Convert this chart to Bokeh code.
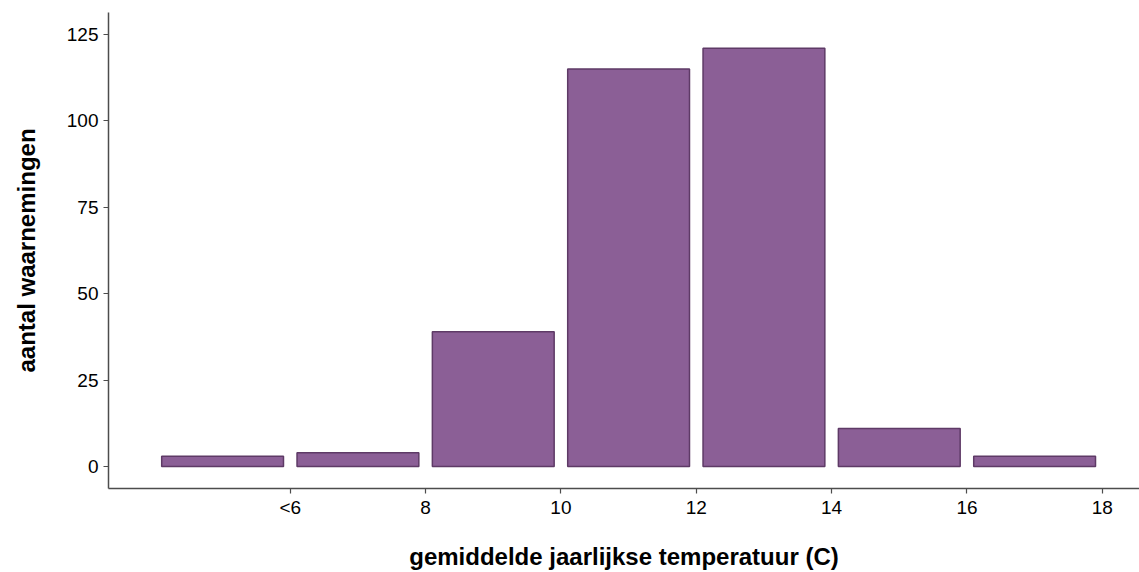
from bokeh.plotting import figure
from bokeh.models import Range1d, FixedTicker
from bokeh.embed import file_html
from bokeh.resources import INLINE

bin_centers = [5, 7, 9, 11, 13, 15, 17]
counts = [3, 4, 39, 115, 121, 11, 3]
x_ticks = [6, 8, 10, 12, 14, 16, 18]
x_tick_labels = ["<6", "8", "10", "12", "14", "16", "18"]
y_ticks = [0, 25, 50, 75, 100, 125]

p = figure(width=1139, height=572, output_backend="svg", toolbar_location=None,
           x_range=Range1d(3.314, 18.55), y_range=Range1d(-6.35, 131.35),
           min_border_left=108, min_border_right=0, min_border_top=12, min_border_bottom=83)
p.outline_line_color = None
p.grid.visible = False
p.background_fill_color = "white"
p.border_fill_color = "white"

p.vbar(x=bin_centers, top=counts, bottom=0, width=1.8,
       fill_color="#8B5F96", line_color="#5E3A66", line_width=1.5)

p.xaxis.ticker = FixedTicker(ticks=x_ticks)
p.xaxis.major_label_overrides = {t: l for t, l in zip(x_ticks, x_tick_labels)}
p.yaxis.ticker = FixedTicker(ticks=y_ticks)

for ax in (p.xaxis, p.yaxis):
    ax.axis_line_color = "#4d4d4d"
    ax.axis_line_width = 1.5
    ax.major_tick_line_color = "#4d4d4d"
    ax.major_tick_line_width = 1.2
    ax.major_tick_out = 5
    ax.major_tick_in = 0
    ax.minor_tick_line_color = None
    ax.major_label_text_font = "Liberation Sans"
    ax.major_label_text_font_size = "19px"
    ax.major_label_text_color = "black"
    ax.axis_label_text_font = "Liberation Sans"
    ax.axis_label_text_font_size = "24px"
    ax.axis_label_text_font_style = "bold"
    ax.axis_label_text_color = "black"

p.xaxis.axis_label = "gemiddelde jaarlijkse temperatuur (C)"
p.yaxis.axis_label = "aantal waarnemingen"
p.xaxis.major_label_standoff = 3
p.yaxis.major_label_standoff = 5
p.xaxis.axis_label_standoff = 22
p.yaxis.axis_label_standoff = 24

open("out.html", "w").write(file_html(p, INLINE))
